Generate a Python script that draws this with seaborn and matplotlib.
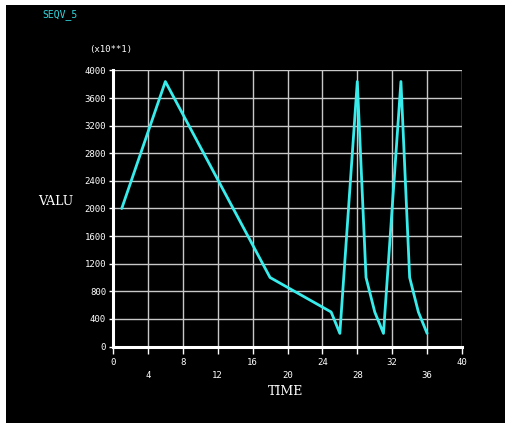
import matplotlib
matplotlib.use("Agg")
import matplotlib.pyplot as plt
import seaborn as sns
from matplotlib.patches import Rectangle

# SEQV_5 result (values in units of x10**1)
time = [1, 6, 18, 25, 26, 28, 29, 30, 31, 33, 34, 35, 36]
valu = [2000, 3840, 1000, 500, 190, 3840, 1000, 500, 190, 3840, 1000, 500, 190]

x_major = [0, 8, 16, 24, 32, 40]
x_minor = [4, 12, 20, 28, 36]
y_ticks = [0, 400, 800, 1200, 1600, 2000, 2400, 2800, 3200, 3600, 4000]

sns.set_style("dark")
plt.rcParams['font.family'] = ['DejaVu Sans Mono', 'DejaVu Sans']

fig = plt.figure(figsize=(5.06, 4.23), dpi=100, facecolor="black")
# white strips along top and left edge
fig.patches.append(Rectangle((0, 0), 6 / 506, 1, transform=fig.transFigure,
                             facecolor="white", edgecolor="none", zorder=5))
fig.patches.append(Rectangle((0, 1 - 5 / 423), 1, 5 / 423, transform=fig.transFigure,
                             facecolor="white", edgecolor="none", zorder=5))

ax = fig.add_axes([113 / 506, 76.5 / 423, 349 / 506, 276 / 423])
ax.set_facecolor("black")

sns.lineplot(x=time, y=valu, ax=ax, color="#38ecec", linewidth=2.0,
             estimator=None, sort=False, zorder=3)

ax.set_xlim(0, 40)
ax.set_ylim(0, 4000)
ax.set_xticks(x_major)
ax.set_xticklabels([str(v) for v in x_major])
ax.set_xticks(x_minor, minor=True)
ax.set_xticklabels([str(v) for v in x_minor], minor=True)
ax.set_yticks(y_ticks)
ax.set_yticklabels([str(v) for v in y_ticks])

ax.grid(True, which="both", color="#c8c8c8", linewidth=1.0)
ax.tick_params(axis="x", which="major", colors="white", labelsize=6.5,
               length=5, width=1, pad=3, direction="out", bottom=True)
ax.tick_params(axis="x", which="minor", colors="white", labelsize=6.5,
               length=5, width=1, pad=12.5, direction="out", bottom=True)
ax.tick_params(axis="y", colors="white", labelsize=6.5, length=3, width=1,
               pad=2, direction="out", left=True)

for side in ["top", "right"]:
    ax.spines[side].set_visible(False)
for side in ["left", "bottom"]:
    ax.spines[side].set_visible(True)
    ax.spines[side].set_color("white")
    ax.spines[side].set_linewidth(2.2)
    ax.spines[side].set_zorder(4)

ax.set_xlabel("")
ax.set_ylabel("")

fig.text(42 / 506, 1 - 15 / 423, "SEQV_5", color="#30d8e0", fontsize=7,
         ha="left", va="center")
fig.text(111 / 506, 1 - 49 / 423, "(x10**1)", color="white", fontsize=6.5,
         ha="center", va="center")
fig.text(56 / 506, 1 - 201 / 423, "VALU", color="white", fontsize=9,
         family="DejaVu Serif", ha="center", va="center")
fig.text(286 / 506, 1 - 391 / 423, "TIME", color="white", fontsize=9,
         family="DejaVu Serif", ha="center", va="center")

fig.savefig("out.png", dpi=100, facecolor="black")
